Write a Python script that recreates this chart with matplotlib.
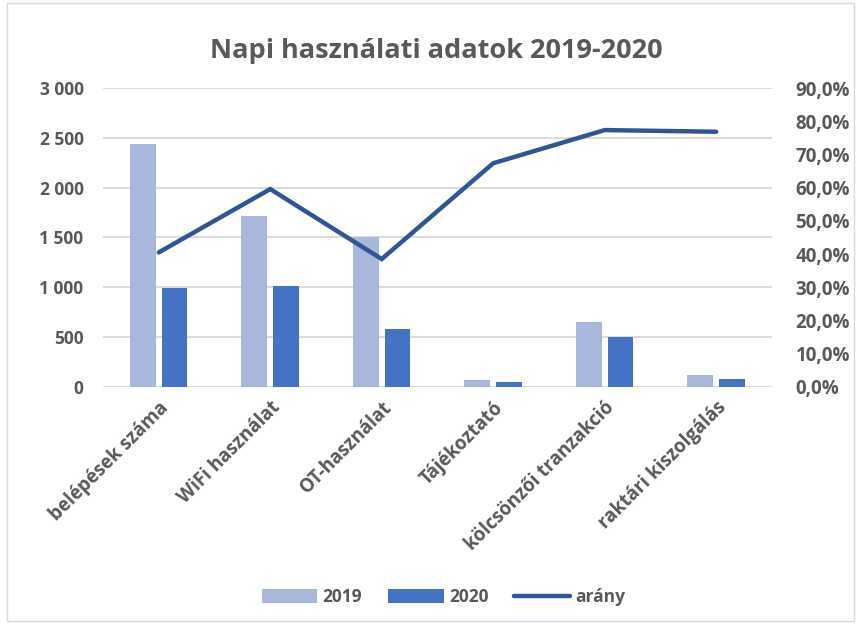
import matplotlib.pyplot as plt
import numpy as np
from matplotlib.ticker import FuncFormatter
from matplotlib.patches import Rectangle

categories = ['belépések száma', 'WiFi használat', 'OT-használat',
              'Tájékoztató', 'kölcsönzői tranzakció', 'raktári kiszolgálás']
vals_2019 = [2440, 1717, 1506, 67, 651, 115]
vals_2020 = [990, 1010, 577, 47, 497, 77]
arany = [40.5, 59.6, 38.5, 67.4, 77.4, 76.9]

c2019 = '#A9B7DC'
c2020 = '#4472C4'
cline = '#2F5597'
cgray = '#595959'

plt.rcParams['font.family'] = ['Open Sans', 'DejaVu Sans']
plt.rcParams['font.weight'] = 'bold'

fig = plt.figure(figsize=(8.61, 6.24), dpi=100)
fig.patches.append(Rectangle((0.008, 0.005), 0.984, 0.99, transform=fig.transFigure,
                             fill=False, edgecolor='#D9D9D9', linewidth=1.0))

ax = fig.add_axes([0.1196, 0.3803, 0.777, 0.4782])
x = np.arange(len(categories))
w = 0.233
gap = 0.05
ax.bar(x - (w + gap) / 2, vals_2019, w, color=c2019, label='2019', zorder=2)
ax.bar(x + (w + gap) / 2, vals_2020, w, color=c2020, label='2020', zorder=2)
ax.set_xlim(-0.5, len(categories) - 0.5)
ax.set_ylim(0, 3000)
ax.set_yticks(np.arange(0, 3001, 500))
ax.yaxis.set_major_formatter(FuncFormatter(lambda v, p: '{:,.0f}'.format(v).replace(',', ' ')))
ax.grid(axis='y', color='#D9D9D9', linewidth=1.3, zorder=0)
ax.set_axisbelow(True)
for s in ax.spines.values():
    s.set_visible(False)
ax.tick_params(axis='both', length=0, colors=cgray, labelsize=12.5)
ax.tick_params(axis='y', pad=14)
ax.set_xticks(x)
ax.set_xticklabels(categories, rotation=45, ha='right', va='top',
                   rotation_mode='anchor', fontsize=13.5, color=cgray, fontweight='bold')
ax.tick_params(axis='x', pad=8)

ax2 = ax.twinx()
ax2.plot(x, arany, color=cline, linewidth=3.2, solid_capstyle='round',
         solid_joinstyle='miter', label='arány', zorder=3)
ax2.set_ylim(0, 90)
ax2.set_yticks(np.arange(0, 91, 10))
ax2.yaxis.set_major_formatter(FuncFormatter(lambda v, p: '{:.1f}%'.format(v).replace('.', ',')))
for s in ax2.spines.values():
    s.set_visible(False)
ax2.tick_params(axis='y', length=0, colors=cgray, labelsize=13.5, pad=17)

fig.text(0.507, 0.918, 'Napi használati adatok 2019-2020', ha='center', va='center',
         fontsize=19.5, fontweight='bold', color=cgray)

h1, l1 = ax.get_legend_handles_labels()
h2, l2 = ax2.get_legend_handles_labels()
fig.legend(h1 + h2, l1 + l2, loc='center', bbox_to_anchor=(0.515, 0.043), ncol=3,
           frameon=False, labelcolor=cgray, handlelength=3.2,
           handleheight=0.9, columnspacing=1.5, handletextpad=0.3,
           prop={'weight': 'bold', 'size': 12.5})

fig.savefig('out.png', dpi=100)
